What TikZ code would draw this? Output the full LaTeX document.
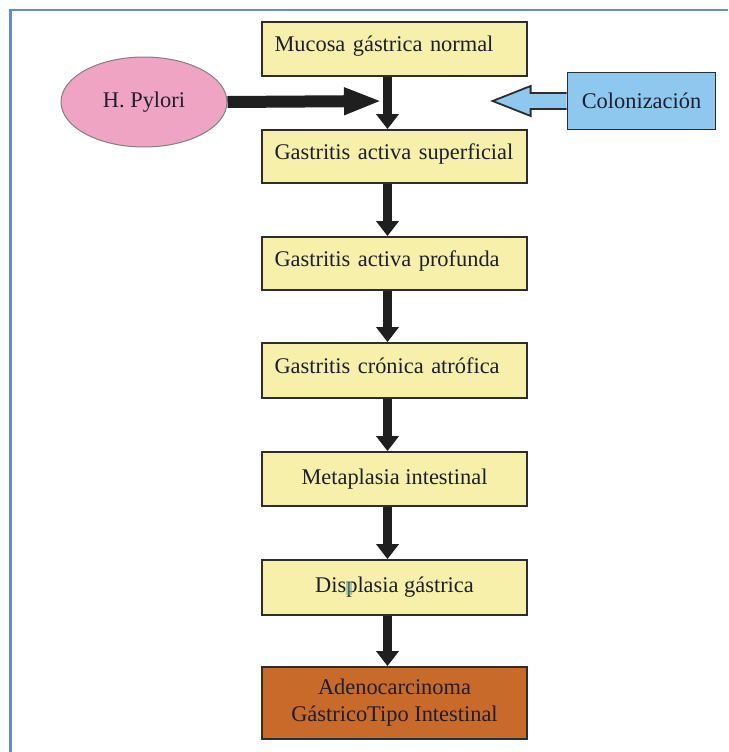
\documentclass[tikz,border=0pt]{standalone}
\usepackage{fontspec}
\setmainfont{Liberation Serif}
\usetikzlibrary{arrows.meta,shapes.geometric,calc}
\definecolor{boxyellow}{RGB}{246,240,170}
\definecolor{boxorange}{RGB}{200,106,42}
\definecolor{pinkfill}{RGB}{240,164,196}
\definecolor{bluefill}{RGB}{142,200,238}
\definecolor{framecol}{RGB}{92,142,214}
\definecolor{txt}{RGB}{30,30,45}
\definecolor{edgecol}{RGB}{45,45,45}
\definecolor{artifact}{RGB}{110,170,150}
\tikzset{
  stage/.style={draw=edgecol, line width=1.8pt, fill=boxyellow, minimum width=265pt,
    minimum height=54pt, inner sep=0pt, font=\fontsize{22.4}{27}\selectfont, text=txt},
  stageleft/.style={stage, text width=240pt, align=left, text height=16pt, text depth=10pt},
  stagecenter/.style={stage, align=center},
  flow/.style={line width=9.5pt, draw=black!88, -{Triangle[length=15pt,width=22pt]}},
  bigflow/.style={line width=12pt, draw=black!88, -{Triangle[length=38pt,width=25pt]}},
  frameline/.style={draw=framecol, line width=2.6pt}
}
\begin{document}
\begin{tikzpicture}[x=1pt,y=-1pt]
\useasboundingbox (0,0) rectangle (728,752);
% frame (top and left edges visible)
\draw[frameline] (728,10) -- (10.5,10) -- (10.5,752);

\node[stageleft] (b1) at (394.5,49) {Mucosa gástrica normal};
\node[stageleft, minimum height=53pt] (b2) at (394.5,156.5) {Gastritis activa superficial};
\node[stageleft, minimum height=53pt] (b3) at (394.5,263.5) {Gastritis activa profunda};
\node[stageleft, minimum height=55pt] (b4) at (394.5,370.5) {Gastritis crónica atrófica};
\node[stagecenter] (b5) at (394.5,479) {Metaplasia intestinal};
\node[stagecenter, minimum height=55pt] (b6) at (394.5,587.5) {Displasia gástrica};
\node[stagecenter, fill=boxorange, minimum height=72pt] (b7) at (394.5,703) {Adenocarcinoma\\GástricoTipo Intestinal};

\fill[artifact, opacity=0.55] (346,581) rectangle (352,595);

\node[ellipse, draw=gray, line width=1pt, fill=pinkfill, minimum width=166pt, minimum height=90pt,
  inner sep=0pt, font=\fontsize{22.4}{27}\selectfont, text=txt] (hp) at (144,102) {H. Pylori};

\node[draw=edgecol, line width=1.8pt, fill=bluefill, minimum width=148pt, minimum height=57pt,
  inner sep=0pt, font=\fontsize{22.4}{27}\selectfont, text=txt] (col) at (641.5,101) {Colonización};

% vertical flow arrows
\foreach \a/\b in {b1/b2,b2/b3,b3/b4,b4/b5,b5/b6,b6/b7}{
  \draw[flow] ([shift={(-7,0)}]\a.south) -- ([shift={(-7,0)}]\b.north);
}

% H. Pylori arrow
\coordinate (hptip) at (382,101);
\draw[bigflow] (hp.east) -- (hptip);

% Colonizacion hollow arrow
\draw[draw=edgecol, line width=1.8pt, fill=bluefill, line join=miter]
  ([shift={(0,-8)}]col.west) -- ([shift={(-36,-8)}]col.west) -- ([shift={(-36,-15)}]col.west)
  -- ([shift={(-74,0)}]col.west) -- ([shift={(-36,15)}]col.west) -- ([shift={(-36,8)}]col.west)
  -- ([shift={(0,8)}]col.west);
\end{tikzpicture}
\end{document}
